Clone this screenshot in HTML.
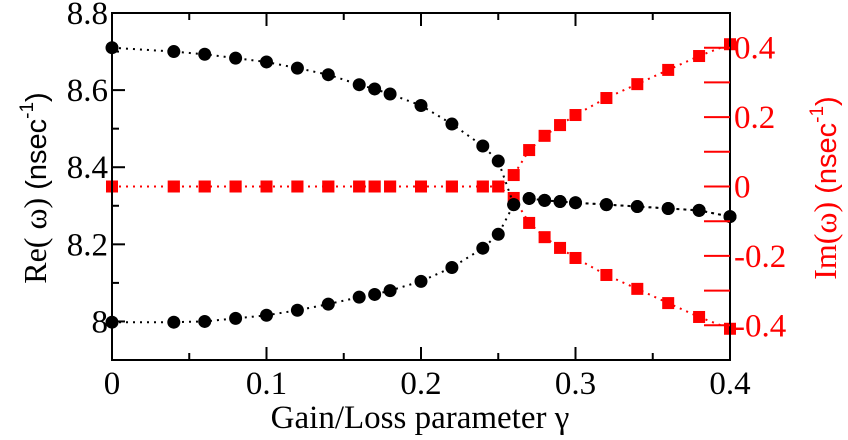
<!DOCTYPE html>
<html><head><meta charset="utf-8"><style>
html,body{margin:0;padding:0;background:#fff;width:848px;height:440px;overflow:hidden}
svg{display:block}
</style></head><body>
<svg id="chart" width="848" height="440" viewBox="0 0 848 440" xmlns="http://www.w3.org/2000/svg">
<g id="marks"></g>
<g id="axes"></g>
<text transform="translate(46,188) rotate(-90)" text-anchor="middle" font-size="32" fill="#000"><tspan style="font-family:'Liberation Serif',serif">Re( ω)</tspan><tspan style="font-family:'Liberation Sans',sans-serif" font-size="29"> (nsec</tspan><tspan style="font-family:'Liberation Sans',sans-serif" font-size="19" dy="-13">-1</tspan><tspan style="font-family:'Liberation Sans',sans-serif" font-size="29" dy="13">)</tspan></text>
<text transform="translate(836,188) rotate(-90)" text-anchor="middle" font-size="32" fill="#ff0000"><tspan style="font-family:'Liberation Serif',serif">Im(ω)</tspan><tspan style="font-family:'Liberation Sans',sans-serif" font-size="29"> (nsec</tspan><tspan style="font-family:'Liberation Sans',sans-serif" font-size="19" dy="-13">-1</tspan><tspan style="font-family:'Liberation Sans',sans-serif" font-size="29" dy="13">)</tspan></text>
<text style="font-family:'Liberation Serif',serif" x="420" y="428" text-anchor="middle" font-size="33" fill="#000">Gain/Loss parameter γ</text>
</svg>
<script>
const gammaVals = [0,0.04,0.06,0.08,0.1,0.12,0.14,0.16,0.17,0.18,0.2,0.22,0.24,0.25,0.26,0.27,0.28,0.29,0.3,0.32,0.34,0.36,0.38,0.4];
const reUpper = [8.71,8.70,8.693,8.683,8.673,8.657,8.64,8.614,8.603,8.59,8.56,8.512,8.455,8.416,8.303,8.319,8.314,8.311,8.308,8.303,8.298,8.293,8.288,8.272];
const reLower = [7.998,7.998,8.0,8.008,8.016,8.029,8.045,8.063,8.07,8.08,8.104,8.14,8.19,8.226,8.303,8.319,8.314,8.311,8.308,8.303,8.298,8.293,8.288,8.272];
const imUpper = [0,0,0,0,0,0,0,0,0,0,0,0,0,0,0.033,0.105,0.146,0.177,0.206,0.255,0.295,0.336,0.376,0.41];
const imLower = [0,0,0,0,0,0,0,0,0,0,0,0,0,0,-0.033,-0.105,-0.146,-0.177,-0.206,-0.255,-0.295,-0.336,-0.376,-0.41];
const xTicks = [0,0.1,0.2,0.3,0.4];
const xTickLabels = ["0","0.1","0.2","0.3","0.4"];
const yLeftTicks = [8,8.2,8.4,8.6,8.8];
const yLeftTickLabels = ["8","8.2","8.4","8.6","8.8"];
const yRightTicks = [-0.4,-0.2,0,0.2,0.4];
const yRightTickLabels = ["-0.4","-0.2","0","0.2","0.4"];

const L=112,R=730,T=13,B=360;
const sx=v=>L+(v-0)/(0.4)*(R-L);
const syL=v=>B-(v-7.9)/(0.9)*(B-T);
const syR=v=>B-(v+0.5)/(1.0)*(B-T);
const NS="http://www.w3.org/2000/svg";
const marks=document.getElementById('marks'), axes=document.getElementById('axes');
function mk(tag,attrs,parent){const e=document.createElementNS(NS,tag);for(const k in attrs)e.setAttribute(k,attrs[k]);parent.appendChild(e);return e;}

function series(vals,sy,color,shape,name){
  const pts=gammaVals.map((g,i)=>sx(g).toFixed(1)+','+sy(vals[i]).toFixed(1)).join(' ');
  const pl=mk('polyline',{points:pts,fill:'none',stroke:color,'stroke-width':2,'stroke-dasharray':'2 5','stroke-linecap':'butt'},marks);
  
  
  gammaVals.forEach((g,i)=>{
    let m;
    if(shape==='c'){m=mk('circle',{cx:sx(g),cy:sy(vals[i]),r:6.5,fill:color},marks);}
    else{m=mk('rect',{x:sx(g)-6,y:sy(vals[i])-6,width:12,height:12,fill:color},marks);}
    
    
  });
}
series(imUpper,syR,'#ff0000','s','im-upper');
series(imLower,syR,'#ff0000','s','im-lower');
series(reUpper,syL,'#000','c','re-upper');
series(reLower,syL,'#000','c','re-lower');

const fr=mk('rect',{x:L,y:T,width:R-L,height:B-T,fill:'none',stroke:'#000','stroke-width':2},axes);


function line(x1,y1,x2,y2,c){const l=mk('line',{x1,y1,x2,y2,stroke:c,'stroke-width':2},axes);}
function label(x,y,t,c,anchor,name){const e=mk('text',{x,y,'text-anchor':anchor,'font-size':33,fill:c,style:"font-family:'Liberation Serif',serif"},axes);e.textContent=t;}
xTicks.forEach((v,i)=>{const x=sx(v);line(x,B,x,B-13,'#000');line(x,T,x,T+13,'#000');label(x,394,xTickLabels[i],'#000','middle','x-tick-label');});
for(let v=0.05;v<0.4;v+=0.1){const x=sx(v);line(x,B,x,B-7,'#000');line(x,T,x,T+7,'#000');}
yLeftTicks.forEach((v,i)=>{const y=syL(v);line(L,y,L+13,y,'#000');label(L-4,y+11,yLeftTickLabels[i],'#000','end','y-left-tick-label');});
for(let v=8.1;v<8.8;v+=0.2){const y=syL(v);line(L,y,L+7,y,'#000');}
yRightTicks.forEach((v,i)=>{const y=syR(v);line(R,y,R-26,y,'#ff0000');label(R+4,y+11,yRightTickLabels[i],'#ff0000','start','y-right-tick-label');});
for(let v=-0.3;v<0.4;v+=0.2){const y=syR(v);line(R,y,R-26,y,'#ff0000');}
</script>
</body></html>
